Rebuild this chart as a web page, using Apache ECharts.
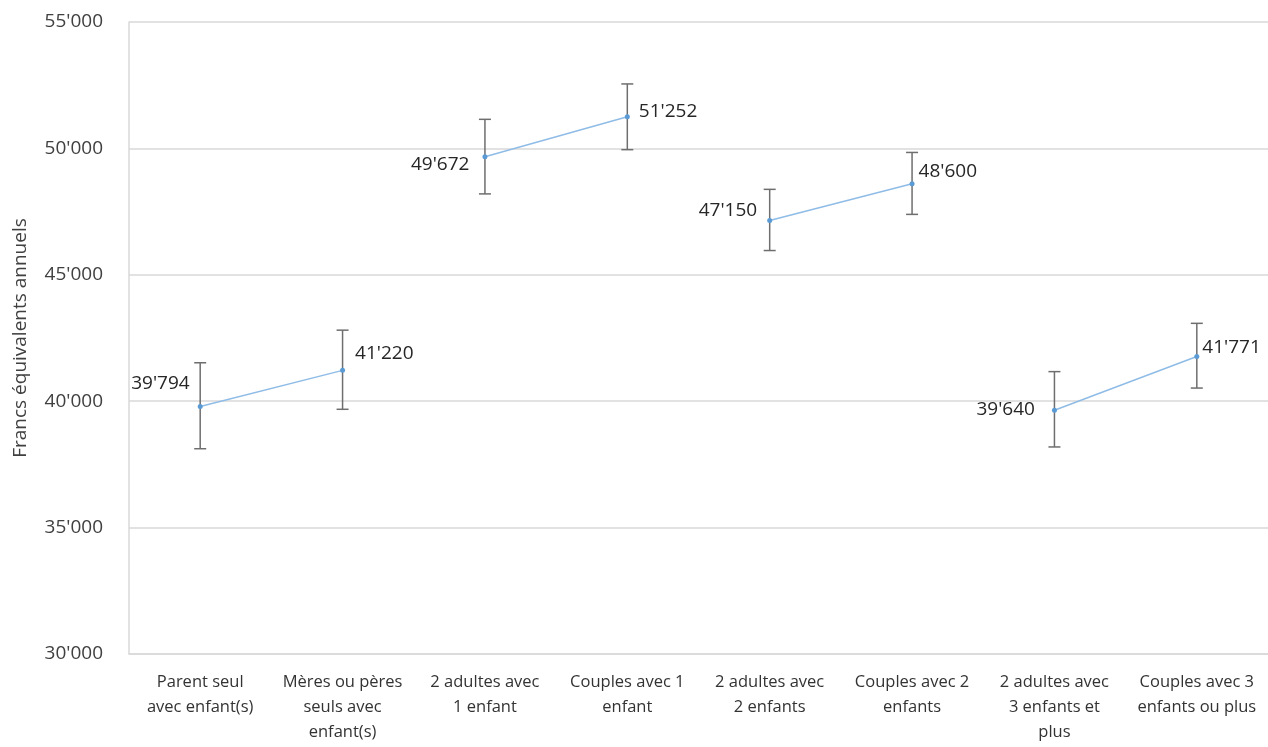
<!DOCTYPE html>
<html>
<head>
<meta charset="utf-8">
<script src="https://cdn.jsdelivr.net/npm/echarts@6/dist/echarts.min.js"></script>
<style>
html,body{margin:0;padding:0;background:#fff;}
#chart{width:1268px;height:747px;}
</style>
</head>
<body>
<div id="chart"></div>
<script>
// ---- data ----
var categories = [
  "Parent seul\navec enfant(s)",
  "Mères ou pères\nseuls avec\nenfant(s)",
  "2 adultes avec\n1 enfant",
  "Couples avec 1\nenfant",
  "2 adultes avec\n2 enfants",
  "Couples avec 2\nenfants",
  "2 adultes avec\n3 enfants et\nplus",
  "Couples avec 3\nenfants ou plus"
];
var values = [39794, 41220, 49672, 51252, 47150, 48600, 39640, 41771];
var errLow  = [38120, 39680, 48200, 49950, 45960, 47390, 38190, 40520];
var errHigh = [41520, 42810, 51150, 52550, 48380, 49840, 41170, 43080];
var pairs = [[0, 1], [2, 3], [4, 5], [6, 7]];
var yTicks = { min: 30000, max: 55000, interval: 5000 };
var yAxisTitle = "Francs équivalents annuels";

// ---- label layout (style only) ----
var labelSide = ['left', 'right', 'left', 'right', 'left', 'right', 'left', 'right'];
var labelOffset = [[-8, -23], [10, -17], [-13, 8], [9, -5], [-10, -10], [4, -12], [-17, -1], [3, -9]];

function fmt(v) {
  return String(Math.round(v)).replace(/\B(?=(\d{3})+(?!\d))/g, "'");
}

var FONT = 'Open Sans';

var lineSeries = pairs.map(function (p) {
  var data = categories.map(function (c, i) {
    if (p.indexOf(i) < 0) return '-';
    return {
      value: values[i],
      label: {
        show: true,
        position: labelSide[i],
        distance: 0,
        offset: labelOffset[i],
        formatter: function (pp) { return fmt(pp.value); },
        color: '#262626',
        fontSize: 19,
        fontFamily: FONT
      }
    };
  });
  return {
    type: 'line',
    data: data,
    connectNulls: false,
    symbol: 'circle',
    symbolSize: 5,
    itemStyle: { color: '#5b9bd5' },
    lineStyle: { color: '#8fbce6', width: 1.5 },
    z: 3,
    silent: true
  };
});

var errData = categories.map(function (c, i) { return [i, errLow[i], errHigh[i]]; });

var errSeries = {
  type: 'custom',
  data: errData,
  z: 2,
  silent: true,
  renderItem: function (params, api) {
    var x = api.value(0);
    var lo = api.coord([x, api.value(1)]);
    var hi = api.coord([x, api.value(2)]);
    var hw = 6;
    var st = { stroke: '#6e6e6e', lineWidth: 1.5 };
    return {
      type: 'group',
      children: [
        { type: 'line', shape: { x1: lo[0], y1: lo[1], x2: hi[0], y2: hi[1] }, style: st },
        { type: 'line', shape: { x1: lo[0] - hw, y1: lo[1], x2: lo[0] + hw, y2: lo[1] }, style: st },
        { type: 'line', shape: { x1: hi[0] - hw, y1: hi[1], x2: hi[0] + hw, y2: hi[1] }, style: st }
      ]
    };
  }
};

var chart = echarts.init(document.getElementById('chart'), null, { renderer: 'canvas' });
chart.setOption({
  animation: false,
  backgroundColor: '#ffffff',
  grid: { left: 129, right: 0, top: 22, bottom: 93, containLabel: false },
  xAxis: {
    type: 'category',
    data: categories,
    boundaryGap: true,
    axisLine: { show: true, lineStyle: { color: '#d9d9d9', width: 1.5 } },
    axisTick: { show: false },
    axisLabel: {
      interval: 0,
      margin: 16,
      color: '#333333',
      fontSize: 16.5,
      lineHeight: 25,
      fontFamily: FONT,
      align: 'center'
    }
  },
  yAxis: {
    type: 'value',
    min: yTicks.min,
    max: yTicks.max,
    interval: yTicks.interval,
    name: yAxisTitle,
    nameLocation: 'middle',
    nameGap: 99,
    nameRotate: 90,
    nameTextStyle: { color: '#404040', fontSize: 19, fontFamily: FONT },
    axisLine: { show: true, lineStyle: { color: '#d9d9d9', width: 1.5 } },
    axisTick: { show: false },
    splitLine: { show: true, lineStyle: { color: '#d9d9d9', width: 1.5 } },
    axisLabel: {
      margin: 26,
      color: '#404040',
      fontSize: 19,
      fontFamily: FONT,
      formatter: function (v) { return fmt(v); }
    }
  },
  series: [errSeries].concat(lineSeries)
});
</script>
</body>
</html>
